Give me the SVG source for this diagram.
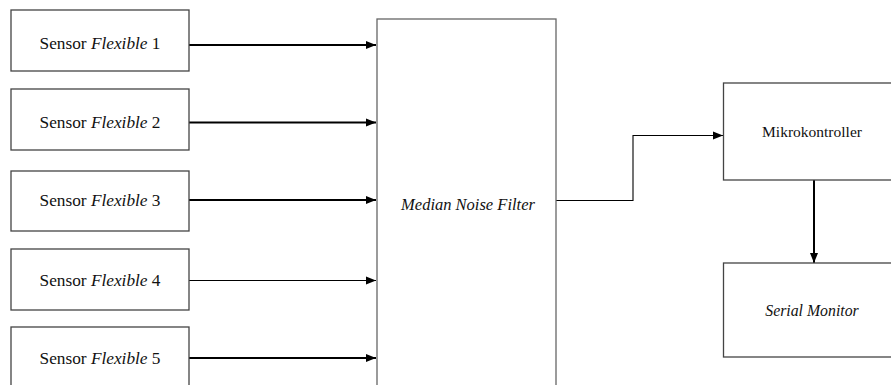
<svg xmlns="http://www.w3.org/2000/svg" width="891" height="385" viewBox="0 0 891 385">
<style>
.box{fill:#fff;stroke:#444;stroke-width:1.3}
.t{font-family:"Liberation Serif","Times New Roman",serif;fill:#111;text-anchor:middle}
.s{font-size:17.3px}
.i{font-style:italic}
.c{fill:none;stroke:#000}
.thick{stroke-width:2}
.thin{stroke-width:1.1}
</style>
<defs>
<marker id="ah" markerUnits="userSpaceOnUse" markerWidth="10" markerHeight="9" refX="10" refY="4.5" orient="auto">
<path d="M0,0.5 L10,4.5 L0,8.5 Z" fill="#000"/>
</marker>
</defs>
<rect width="891" height="385" fill="#fff"/>
<g id="connectors">
<line class="c thick" x1="189" y1="45" x2="376" y2="45" marker-end="url(#ah)"/>
<line class="c thick" x1="189" y1="122.5" x2="376" y2="122.5" marker-end="url(#ah)"/>
<line class="c thick" x1="189" y1="200" x2="376" y2="200" marker-end="url(#ah)"/>
<line class="c thin" x1="189" y1="280.5" x2="376" y2="280.5" marker-end="url(#ah)"/>
<line class="c thick" x1="189" y1="358" x2="376" y2="358" marker-end="url(#ah)"/>
<polyline class="c thin" points="556,200.5 633,200.5 633,135.5 723,135.5" marker-end="url(#ah)"/>
<line class="c thick" x1="814" y1="180" x2="814" y2="263" marker-end="url(#ah)"/>
</g>
<g id="sensor1"><rect class="box" x="11" y="10" width="178" height="61"/><text class="t s" x="100" y="49">Sensor <tspan class="i">Flexible</tspan> 1</text></g>
<g id="sensor2"><rect class="box" x="11" y="89" width="178" height="61"/><text class="t s" x="100" y="128">Sensor <tspan class="i">Flexible</tspan> 2</text></g>
<g id="sensor3"><rect class="box" x="11" y="171" width="178" height="60"/><text class="t s" x="100" y="206">Sensor <tspan class="i">Flexible</tspan> 3</text></g>
<g id="sensor4"><rect class="box" x="11" y="249" width="178" height="61"/><text class="t s" x="100" y="286">Sensor <tspan class="i">Flexible</tspan> 4</text></g>
<g id="sensor5"><rect class="box" x="11" y="327" width="178" height="70"/><text class="t s" x="100" y="364">Sensor <tspan class="i">Flexible</tspan> 5</text></g>
<g id="median"><rect class="box" x="377" y="19" width="179" height="380" style="stroke:#666"/><text class="t i" x="468" y="210" font-size="16.5">Median Noise Filter</text></g>
<g id="mikro"><rect class="box" x="723.5" y="83" width="170" height="97"/><text class="t" x="812" y="137" font-size="15.5">Mikrokontroller</text></g>
<g id="serial"><rect class="box" x="723.5" y="263" width="170" height="94"/><text class="t i" x="812" y="316" font-size="15.8">Serial Monitor</text></g>
</svg>
